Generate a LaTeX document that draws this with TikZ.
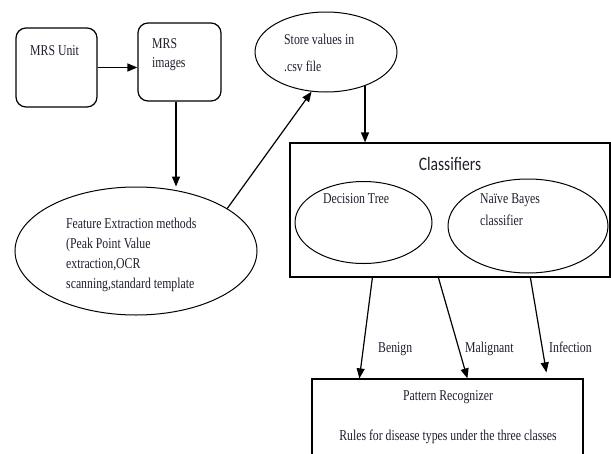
\documentclass[tikz,border=0pt]{standalone}
\usepackage{fontspec}
\setmainfont[FakeStretch=0.785]{Liberation Serif}
\setsansfont[FakeStretch=0.82]{Carlito}
\usetikzlibrary{shapes.geometric,arrows.meta,calc}
\definecolor{txt}{RGB}{30,30,45}
\tikzset{
  rbox/.style={draw, line width=1.2pt, rounded corners=10pt, inner sep=0pt},
  sbox/.style={draw, line width=1.2pt, inner sep=0pt},
  ell/.style={draw, ellipse, line width=1pt, inner sep=0pt},
  lbl/.style={anchor=base west, inner sep=0pt, text=txt, font=\fontsize{15}{20}\selectfont},
  arr/.style={line width=1.2pt, -{Triangle[length=10pt,width=8pt]}},
  ln/.style={line width=1.2pt}
}
\begin{document}
\begin{tikzpicture}[x=1pt,y=-1pt]
\clip (0,0) rectangle (611,453);
\fill[white] (0,0) rectangle (611,453);
% shapes
\node[rbox, minimum width=81pt, minimum height=79pt] (unit) at (56.5,67.5) {};
\node[rbox, minimum width=83pt, minimum height=78pt] (img) at (179.5,62) {};
\node[ell, minimum width=142pt, minimum height=80pt] (st) at (326,52) {};
\node[ell, minimum width=242pt, minimum height=128pt] (fe) at (136,251) {};
\node[sbox, minimum width=320pt, minimum height=134pt] (cls) at (450,210) {};
\node[ell, minimum width=137pt, minimum height=82pt] (dt) at (363.5,222.5) {};
\node[ell, minimum width=160pt, minimum height=94pt] (nb) at (528,226) {};
\node[sbox, minimum width=271pt, minimum height=100pt] (pat) at (447.5,429) {};
\draw[line width=1.7pt] (pat.north west) -- (pat.north east);
% texts
\node[lbl] (tunit) at (30,55) {MRS Unit};
\node[lbl] (timg1) at (152,48) {MRS};
\node[lbl] (timg2) at (152,67) {images};
\node[lbl] (tst1) at (284,44) {Store values in};
\node[lbl] (tst2) at (284,71) {.csv file};
\node[lbl] (tfe1) at (66,228) {Feature Extraction methods};
\node[lbl] (tfe2) at (66,248) {(Peak Point Value};
\node[lbl] (tfe3) at (66,268) {extraction,OCR};
\node[lbl] (tfe4) at (66,288) {scanning,standard template};
\node[anchor=base, inner sep=0pt, text=txt, font=\sffamily\fontsize{19}{20}\selectfont] (tcls) at (450,170) {Classifiers};
\node[lbl] (tdt) at (323,203) {Decision Tree};
\node[lbl] (tnb1) at (480,203) {Naïve Bayes};
\node[lbl] (tnb2) at (480,225) {classifier};
\node[lbl] (tben) at (378,352) {Benign};
\node[lbl] (tmal) at (465,352) {Malignant};
\node[lbl] (tinf) at (549,352) {Infection};
\node[anchor=base, inner sep=0pt, text=txt, font=\fontsize{15}{20}\selectfont] (tpat1) at (448,400) {Pattern Recognizer};
\node[anchor=base, inner sep=0pt, text=txt, font=\fontsize{15}{20}\selectfont] (tpat2) at (448,440) {Rules for disease types under the three classes};
% connectors
\draw[arr] (unit.east) -- (unit.east -| img.west);
\draw[arr] ([xshift=-3.5pt]img.south) -- ([xshift=-3.5pt]img.south |- fe.north);
\draw[arr] (fe.25) -- (st.250);
\draw[arr] (st.319) -- (st.319 |- cls.north);
\draw[arr] ([xshift=83pt]cls.south west) -- ([xshift=48pt]pat.north west);
\draw[arr] ([xshift=149pt]cls.south west) -- ([xshift=156pt]pat.north west);
\coordinate (infend) at ([xshift=235pt,yshift=6pt]pat.north west);
\draw[arr] ([xshift=241pt]cls.south west) -- (infend);
\end{tikzpicture}
\end{document}
